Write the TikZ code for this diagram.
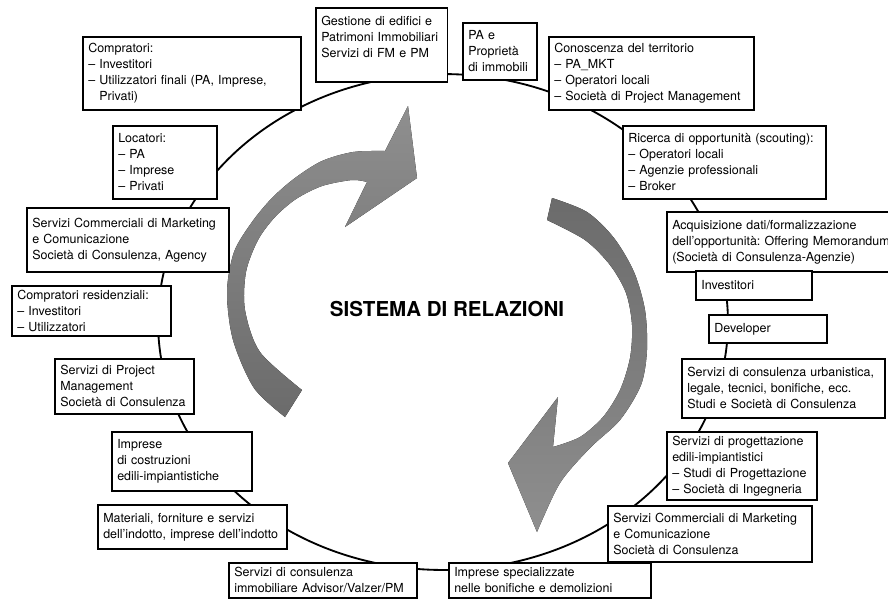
\documentclass[tikz,border=0pt]{standalone}
\usepackage{fontspec}
\setmainfont{TeX Gyre Heros}
\usepackage{tikz}

\definecolor{arrowlight}{gray}{0.56}
\definecolor{arrowdark}{gray}{0.42}

\tikzset{
    box/.style={draw, line width=1.1pt, fill=white, anchor=north west, align=left,
        inner xsep=3pt, inner ysep=2pt, outer sep=0pt,
        font=\fontsize{7.1}{9.1}\selectfont},
    title/.style={font=\fontsize{11.7}{14}\selectfont\bfseries}
}

\begin{document}
\begin{tikzpicture}[x=0.02cm, y=-0.02cm]
    \useasboundingbox (0,0) rectangle (888,609);

    % ring through all the actors
    \coordinate (ring) at (443,322);
    \draw[line width=1.05pt] (ring) ellipse [x radius=5.7cm, y radius=4.96cm];

    % the two gray arrows
    \fill[top color=arrowlight, bottom color=arrowdark]
        (408,106) -- (417,178) -- (345,227) -- (367,182)
        -- plot[smooth] coordinates {(367,182) (352,180) (322,186) (296,199) (275,217) (258,240) (246,272) (245,310) (260,352) (302,390)}
        -- (285,417)
        -- plot[smooth] coordinates {(285,417) (254,388) (233,340) (227,292) (234,252) (252,222) (272,198) (295,178) (322,161) (353,152) (385,151)}
        -- cycle;
    \fill[top color=arrowdark, bottom color=arrowlight]
        (537,532) -- (508,463) -- (558,397) -- (553,447)
        -- plot[smooth] coordinates {(553,447) (580,437) (603,417) (620,390) (630,358) (632,325) (626,293) (610,265) (585,240) (547,220)}
        -- (552,198)
        -- plot[smooth] coordinates {(552,198) (587,212) (614,238) (634,272) (645,310) (647,350) (641,385) (620,420) (590,448) (560,483) (537,532)}
        -- cycle;

    \node[title] (sistema) at (447,309) {SISTEMA DI RELAZIONI};

    % boxes on the ring: name / top-left / width / height / text
    \foreach \nm/\coord/\bw/\bh/\txt in {
        compratori/{83,37}/219/73/{Compratori:\\– Investitori\\– Utilizzatori finali (PA, Imprese,\\\hphantom{– }Privati)},
        gestione/{316,8}/132/74/{Gestione di edifici e\\Patrimoni Immobiliari\\Servizi di FM e PM\\\mbox{}},
        pa/{463,23}/74/57/{PA e\\Proprietà\\di immobili},
        conoscenza/{549,37}/206/73/{Conoscenza del territorio\\– PA\_MKT\\– Operatori locali\\– Società di Project Management},
        ricerca/{623,126}/204/73/{Ricerca di opportunità (scouting):\\– Operatori locali\\– Agenzie professionali\\– Broker},
        acquisizione/{667,212}/250/60/{Acquisizione dati/formalizzazione\\dell’opportunità:\ Offering Memorandum\\(Società di Consulenza-Agenzie)},
        investitori/{696,271}/116/29/{Investitori},
        developer/{709,315}/118/28/{Developer},
        urbanistica/{682,359}/204/59/{Servizi di consulenza urbanistica,\\legale, tecnici, bonifiche, ecc.\\Studi e Società di Consulenza},
        progettazione/{667,432}/151/68/{Servizi di progettazione\\edili-impiantistici\\– Studi di Progettazione\\– Società di Ingegneria},
        commercialiR/{608,506}/205/56/{Servizi Commerciali di Marketing\\e Comunicazione\\Società di Consulenza},
        bonifiche/{449,563}/203/35/{Imprese specializzate\\nelle bonifiche e demolizioni},
        advisor/{229,563}/189/35/{Servizi di consulenza\\immobiliare Advisor/Valzer/PM},
        materiali/{98,505}/190/44/{Materiali, forniture e servizi\\dell’indotto, imprese dell’indotto},
        costruzioni/{112,432}/141/59/{Imprese\\di costruzioni\\edili-impiantistiche},
        projectmgmt/{55,359}/140/55/{Servizi di Project\\Management\\Società di Consulenza},
        residenziali/{12,286}/160/50/{Compratori residenziali:\\– Investitori\\– Utilizzatori},
        commercialiL/{27,208}/203/64/{Servizi Commerciali di Marketing\\e Comunicazione\\Società di Consulenza, Agency},
        locatori/{113,126}/104/73/{Locatori:\\– PA\\– Imprese\\– Privati}
    }{
        \pgfmathsetmacro\tw{\bw*0.5669-6}
        \pgfmathsetmacro\mh{\bh*0.5669}
        \node[box, text width=\tw pt, minimum height=\mh pt] (\nm) at (\coord) {\txt};
    }

\end{tikzpicture}
\end{document}
